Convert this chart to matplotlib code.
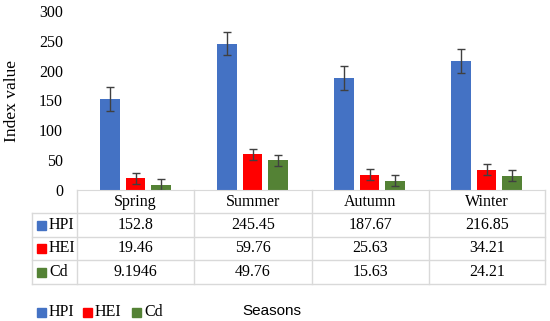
import matplotlib.pyplot as plt
import numpy as np

# data
seasons = ["Spring", "Summer", "Autumn", "Winter"]
series = ["HPI", "HEI", "Cd"]
hpi = [152.8, 245.45, 187.67, 216.85]
hei = [19.46, 59.76, 25.63, 34.21]
cd = [9.1946, 49.76, 15.63, 24.21]
hpi_err = [20, 20, 20, 20]
hei_err = [9, 9, 9, 9]
cd_err = [9, 9, 9, 9]
cell_text = [["152.8", "245.45", "187.67", "216.85"],
             ["19.46", "59.76", "25.63", "34.21"],
             ["9.1946", "49.76", "15.63", "24.21"]]
colors = ["#4472C4", "#FF0000", "#548235"]

W, H = 550, 321
serif = "Liberation Serif"
grid_c = "#D9D9D9"
fs = 11.5

def fx(px):  # pixel -> figure fraction
  return px / W

def fy(py):
  return 1 - py / H

fig = plt.figure(figsize=(5.5, 3.21), dpi=100)
ax = fig.add_axes([fx(77), fy(190), fx(545) - fx(77), fy(11) - fy(190)])

x = np.arange(len(seasons))
offs = [-0.22, 0.0, 0.22]
vals = [hpi, hei, cd]
errs = [hpi_err, hei_err, cd_err]
for k in range(3):
  ax.bar(x + offs[k], vals[k], width=0.17, color=colors[k], yerr=errs[k],
         error_kw=dict(ecolor="#404040", elinewidth=1, capsize=3, capthick=1),
         zorder=2)

ax.set_xlim(-0.5, 3.5)
ax.set_ylim(0, 300)
ax.set_yticks(range(0, 301, 50))
ax.set_xticks([])
ax.tick_params(axis="y", length=0, pad=10, labelsize=fs)
for lab in ax.get_yticklabels():
  lab.set_fontfamily(serif)
for s in ["top", "right", "left"]:
  ax.spines[s].set_visible(False)
ax.spines["bottom"].set_color(grid_c)
ax.set_ylabel("Index value", fontfamily=serif, fontsize=12.5, labelpad=14)

# table drawn under the axes
col_x = [77, 194, 312, 429, 545]
row_y = [190, 213, 237, 260, 284]
for yy in row_y[1:]:
  fig.add_artist(plt.Line2D([fx(32), fx(545)], [fy(yy), fy(yy)], color=grid_c, lw=1))
for xx in col_x:
  fig.add_artist(plt.Line2D([fx(xx), fx(xx)], [fy(190), fy(284)], color=grid_c, lw=1))
fig.add_artist(plt.Line2D([fx(32), fx(32)], [fy(213), fy(284)], color=grid_c, lw=1))

for j, s in enumerate(seasons):
  cx = (col_x[j] + col_x[j + 1]) / 2
  fig.text(fx(cx), fy((row_y[0] + row_y[1]) / 2), s, ha="center", va="center",
           fontfamily=serif, fontsize=fs)
  for i in range(3):
    fig.text(fx(cx), fy((row_y[i + 1] + row_y[i + 2]) / 2), cell_text[i][j],
             ha="center", va="center", fontfamily=serif, fontsize=fs)

for i, name in enumerate(series):
  cy = (row_y[i + 1] + row_y[i + 2]) / 2
  fig.add_artist(plt.Rectangle((fx(37), fy(cy + 4.5)), fx(9), fy(0) - fy(9),
                               color=colors[i]))
  fig.text(fx(49), fy(cy), name, ha="left", va="center", fontfamily=serif, fontsize=fs)

# legend row and axis title
lx = [37, 83, 132]
for i, name in enumerate(series):
  fig.add_artist(plt.Rectangle((fx(lx[i]), fy(316.5)), fx(9), fy(0) - fy(9),
                               color=colors[i]))
  fig.text(fx(lx[i] + 12), fy(312), name, ha="left", va="center",
           fontfamily=serif, fontsize=fs)
fig.text(fx(272), fy(311), "Seasons", ha="center", va="center",
         fontfamily="Liberation Sans", fontsize=11)

fig.savefig("out.png", dpi=100)
